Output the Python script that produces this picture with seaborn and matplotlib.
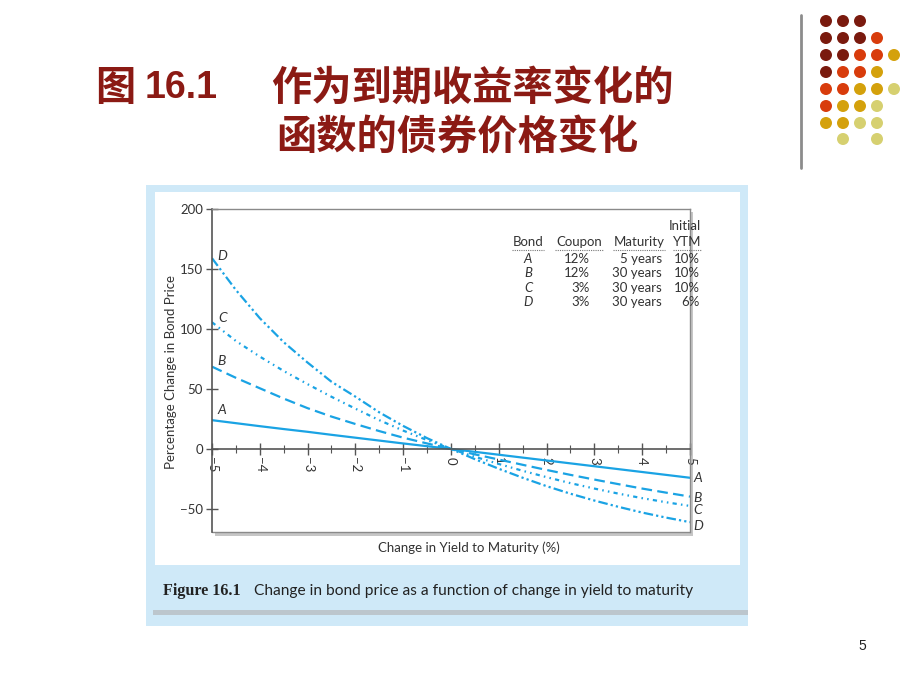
import matplotlib.pyplot as plt
import pandas as pd
import seaborn as sns
from matplotlib.lines import Line2D
from matplotlib.patches import Ellipse, Rectangle

# values (percentage change in bond price)
yield_change = [-5, -4.5, -4, -3.5, -3, -2.5, -2, -1.5, -1, -0.5, 0,
                0.5, 1, 1.5, 2, 2.5, 3, 3.5, 4, 4.5, 5]
bond_a = [24, 21.5, 19, 16.6, 14.3, 11.8, 9.4, 7, 4.6, 2.3, 0,
          -2.4, -4.8, -7.2, -9.6, -12, -14.4, -16.8, -19.2, -21.6, -24]
bond_b = [68.6, 59.3, 50.6, 42, 34, 27, 20.8, 14.9, 9.4, 4.6, 0,
          -4.5, -8.8, -13.2, -17.5, -21.6, -25.5, -29.3, -33, -36.4, -39.7]
bond_c = [105.6, 90, 77, 65, 54, 43.5, 33.6, 24, 15.3, 7.4, 0,
          -6.5, -12.5, -18.2, -23.5, -28.5, -33, -37.2, -41, -44.4, -47.5]
bond_d = [159, 132.5, 109, 89, 72, 56, 43.6, 30.5, 19.2, 9, 0,
          -8.5, -16.5, -24, -31, -37.3, -43, -48.2, -53, -57.2, -61]

bond_names = ["A", "B", "C", "D"]
coupons = ["12%", "12%", "3%", "3%"]
maturities = ["5 years", "30 years", "30 years", "30 years"]
initial_ytm = ["10%", "10%", "10%", "6%"]

x_ticks = [-5, -4, -3, -2, -1, 0, 1, 2, 3, 4, 5]
y_ticks = [-50, 0, 50, 100, 150, 200]

# decoration dots in the corner of the slide (None = no dot)
dot_rows = [
    ["m", "m", "m", None, None],
    ["m", "m", "m", "o", None],
    ["m", "m", "o", "o", "g"],
    ["m", "o", "o", "g", None],
    ["o", "o", "g", "g", "p"],
    ["o", "g", "g", "p", None],
    ["g", "g", "p", "p", None],
    [None, "p", None, "p", None],
]
dot_colors = {"m": "#7a1a0e", "o": "#d83c0c", "g": "#d4a10c", "p": "#d6d070"}

W, H = 920, 690
title_color = "#8b1a14"
line_color = "#1aa3e4"
text_color = "#333333"

sns.set_theme(style="white")
plt.rcParams["font.family"] = ["Lato", "DejaVu Sans"]

fig = plt.figure(figsize=(9.2, 6.9), dpi=100)
fig.patch.set_facecolor("white")


def fx(px):
    return px / W


def fy(py):
    return 1 - py / H


def box(x0, y0, x1, y1, color, z):
    fig.patches.append(Rectangle((fx(x0), fy(y1)), fx(x1) - fx(x0), fy(y0) - fy(y1),
                                 transform=fig.transFigure, facecolor=color,
                                 edgecolor="none", zorder=z))


# textbook image frame
box(146, 185, 748, 626, "#cfe9f8", -6)
box(155, 192, 740, 565, "white", -5)
box(153, 610, 748, 615, "#bcc6cd", -5)
box(215, 212, 693, 536, "#c6c6c6", -4)  # chart shadow

ax = fig.add_axes([fx(212), fy(532), fx(690) - fx(212), fy(209) - fy(532)])
ax.set_facecolor("white")

df = pd.DataFrame({
    "x": yield_change * 4,
    "y": bond_a + bond_b + bond_c + bond_d,
    "bond": [b for b in bond_names for _ in yield_change],
})
dash_map = {"A": "", "B": (4.8, 2.4), "C": (1.9, 1.9, 0.7, 1.9, 0.7, 1.9),
            "D": (4.3, 1.4, 1, 1.4, 1, 1.4)}
sns.lineplot(data=df, x="x", y="y", style="bond", dashes=dash_map, color=line_color,
             linewidth=1.6, ax=ax, legend=False, sort=False)

ax.set_xlim(-5, 5)
ax.set_ylim(-69.2, 200)
ax.set_xlabel("")
ax.set_ylabel("")

ax.spines["bottom"].set_position(("data", 0))
for s in ["left", "bottom"]:
    ax.spines[s].set_color("#555555")
    ax.spines[s].set_linewidth(1.2)
for s in ["top", "right"]:
    ax.spines[s].set_color("#8a8a8a")
    ax.spines[s].set_linewidth(1)
ax.plot([0, 1], [0, 0], transform=ax.transAxes, color="#8a8a8a", lw=1, clip_on=False)

ax.set_xticks(x_ticks)
ax.set_xticks([t / 2 for t in range(-10, 11)], minor=True)
ax.set_yticks(y_ticks)
ax.tick_params(axis="x", which="major", direction="inout", length=8, width=1,
               colors="#555555", labelcolor=text_color, labelsize=9.5, pad=2,
               labelrotation=-90, bottom=True)
ax.tick_params(axis="x", which="minor", direction="inout", length=6, width=0.8,
               colors="#555555", bottom=True)
ax.tick_params(axis="y", direction="inout", length=9, width=1, colors="#555555",
               labelcolor=text_color, labelsize=9.5, pad=2, left=True)

# curve labels
series = [bond_a, bond_b, bond_c, bond_d]
left_offsets = [(10, 10), (10, 6), (11, 4), (10, 2)]
right_offsets = [(3, 0), (3, -1), (3, -4), (3, -4)]
for name, vals, lo, ro in zip(bond_names, series, left_offsets, right_offsets):
    ax.annotate(name, xy=(yield_change[0], vals[0]), xytext=lo, textcoords="offset pixels",
                ha="center", va="center", fontsize=10, style="italic", color=text_color)
    ax.annotate(name, xy=(yield_change[-1], vals[-1]), xytext=ro, textcoords="offset pixels",
                ha="left", va="center", fontsize=10, style="italic", color=text_color,
                annotation_clip=False)

fig.text(fx(171), fy(372), "Percentage Change in Bond Price", rotation=90,
         ha="center", va="center", fontsize=9.5, color=text_color)
fig.text(fx(469), fy(548), "Change in Yield to Maturity (%)", ha="center", va="center",
         fontsize=9.5, color=text_color)

# bond table
tsize = 9.5
fig.text(fx(701), fy(226), "Initial", ha="right", va="center", fontsize=tsize, color=text_color)
headers = [("Bond", 528, "center"), ("Coupon", 579, "center"),
           ("Maturity", 639, "center"), ("YTM", 701, "right")]
for label, px, ha in headers:
    fig.text(fx(px), fy(241.5), label, ha=ha, va="center", fontsize=tsize, color=text_color)
for x0, x1 in [(512, 544), (555, 603), (613, 665), (673, 701)]:
    fig.add_artist(Line2D([fx(x0), fx(x1)], [fy(249.5), fy(249.5)], color="#777777",
                          lw=0.8, linestyle=(0, (1, 1))))
row_y = [259, 273, 287.5, 301.5]
for i, ry in enumerate(row_y):
    fig.text(fx(528), fy(ry), bond_names[i], ha="center", va="center", fontsize=tsize,
             style="italic", color=text_color)
    fig.text(fx(590), fy(ry), coupons[i], ha="right", va="center", fontsize=tsize, color=text_color)
    fig.text(fx(662), fy(ry), maturities[i], ha="right", va="center", fontsize=tsize, color=text_color)
    fig.text(fx(700), fy(ry), initial_ytm[i], ha="right", va="center", fontsize=tsize, color=text_color)

# caption of the textbook figure
fig.text(fx(163), fy(591), "Figure 16.1", ha="left", va="center", fontsize=11.6,
         fontweight="bold", family="Liberation Serif", color="#222222")
fig.text(fx(254), fy(591), "Change in bond price as a function of change in yield to maturity",
         ha="left", va="center", fontsize=11.2, color="#222222")

# slide title
cjk = ["Noto Sans CJK SC", "DejaVu Sans"]
fig.text(fx(95), fy(88), "图", ha="left", va="center", fontsize=29, fontweight="bold",
         color=title_color, family=cjk)
fig.text(fx(145), fy(88), "16.1", ha="left", va="center", fontsize=27, fontweight="bold",
         color=title_color, family="Liberation Sans")
fig.text(fx(271), fy(88), "作为到期收益率变化的", ha="left", va="center", fontsize=29,
         fontweight="bold", color=title_color, family=cjk)
fig.text(fx(276), fy(137), "函数的债券价格变化", ha="left", va="center", fontsize=29,
         fontweight="bold", color=title_color, family=cjk)

# slide decoration
fig.add_artist(Line2D([fx(801), fx(801)], [fy(15), fy(168)], color="#8c8c8c", lw=2))
col_x = [826, 843, 860, 877, 894]
row_y_dots = [21, 38, 55, 72, 89, 106, 123, 139]
for r, row in enumerate(dot_rows):
    for c, key in enumerate(row):
        if key is None:
            continue
        fig.patches.append(Ellipse((fx(col_x[c]), fy(row_y_dots[r])), 12 / W, 12 / H,
                                   transform=fig.transFigure, facecolor=dot_colors[key],
                                   edgecolor="none"))

fig.text(fx(862), fy(646), "5", ha="center", va="center", fontsize=10,
         family="Liberation Sans", color="#222222")

fig.savefig("out.png", dpi=100)
